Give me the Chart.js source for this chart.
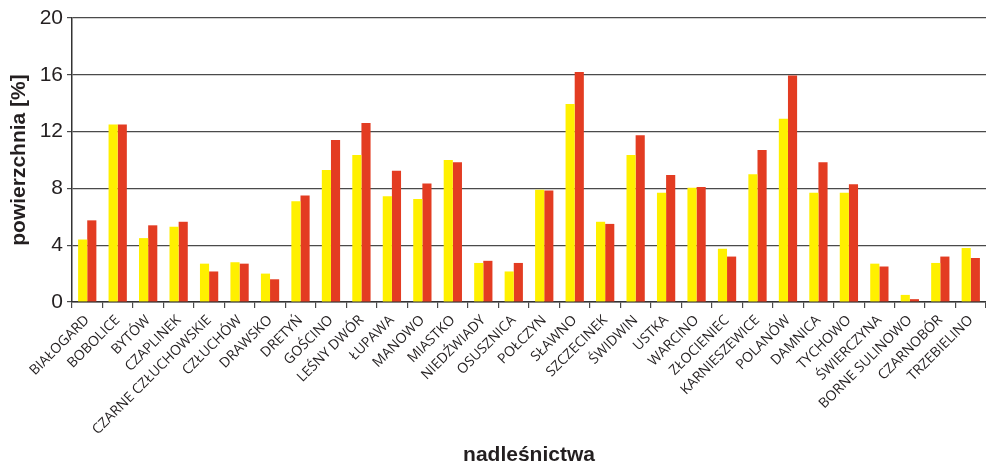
<!DOCTYPE html>
<html lang="pl">
<head>
<meta charset="utf-8">
<title>Powierzchnia nadleśnictw</title>
<script src="https://cdn.jsdelivr.net/npm/chart.js@4/dist/chart.umd.min.js"></script>
<style>
  html, body { margin: 0; padding: 0; background: #fff; }
  #wykres { display: block; }
</style>
</head>
<body>
<canvas id="wykres" width="986" height="466"></canvas>
<script>
// Nadleśnictwa (oś X)
const nadlesnictwa = [
  "BIAŁOGARD", "BOBOLICE", "BYTÓW", "CZAPLINEK", "CZARNE CZŁUCHOWSKIE",
  "CZŁUCHÓW", "DRAWSKO", "DRETYŃ", "GOŚCINO", "LEŚNY DWÓR",
  "ŁUPAWA", "MANOWO", "MIASTKO", "NIEDŹWIADY", "OSUSZNICA",
  "POŁCZYN", "SŁAWNO", "SZCZECINEK", "ŚWIDWIN", "USTKA",
  "WARCINO", "ZŁOCIENIEC", "KARNIESZEWICE", "POLANÓW", "DAMNICA",
  "TYCHOWO", "ŚWIERCZYNA", "BORNE SULINOWO", "CZARNOBÓR", "TRZEBIELINO"
];

// Udział powierzchni [%] - seria żółta
const seriaZolta = [
  4.4, 12.5, 4.5, 5.3, 2.7,
  2.8, 2.0, 7.1, 9.3, 10.35,
  7.45, 7.25, 10.0, 2.75, 2.15,
  7.9, 13.95, 5.65, 10.35, 7.7,
  8.05, 3.75, 9.0, 12.9, 7.7,
  7.7, 2.7, 0.5, 2.75, 3.8
];

// Udział powierzchni [%] - seria czerwona
const seriaCzerwona = [
  5.75, 12.5, 5.4, 5.65, 2.15,
  2.7, 1.6, 7.5, 11.4, 12.6,
  9.25, 8.35, 9.85, 2.9, 2.75,
  7.85, 16.2, 5.5, 11.75, 8.95,
  8.1, 3.2, 10.7, 15.95, 9.85,
  8.3, 2.5, 0.2, 3.2, 3.1
];

// Podziałka osi Y
const podzialkaY = [0, 4, 8, 12, 16, 20];

const kolorTekstu = "#231f20";
const kolorLinii = "#4a4a4a";

const ctx = document.getElementById("wykres").getContext("2d");
new Chart(ctx, {
  type: "bar",
  data: {
    labels: nadlesnictwa,
    datasets: [
      {
        label: "seria 1",
        data: seriaZolta,
        backgroundColor: "#fff000",
        borderWidth: 0,
        barPercentage: 1,
        categoryPercentage: 0.6
      },
      {
        label: "seria 2",
        data: seriaCzerwona,
        backgroundColor: "#e33c22",
        borderWidth: 0,
        barPercentage: 1,
        categoryPercentage: 0.6
      }
    ]
  },
  options: {
    responsive: false,
    devicePixelRatio: 1,
    animation: false,
    layout: { padding: { top: 18, right: 0, bottom: 0, left: 0 } },
    plugins: {
      legend: { display: false },
      tooltip: { enabled: false }
    },
    scales: {
      x: {
        offset: true,
        grid: {
          offset: true,
          drawOnChartArea: false,
          drawTicks: true,
          tickLength: 6,
          color: kolorLinii,
          lineWidth: 1.2
        },
        border: { color: "#333", width: 1.5 },
        ticks: {
          autoSkip: false,
          minRotation: 45,
          maxRotation: 45,
          padding: 4,
          color: kolorTekstu,
          font: { family: "'Open Sans'", size: 14 }
        },
        title: {
          display: true,
          text: "nadleśnictwa",
          color: kolorTekstu,
          font: { family: "'Liberation Sans', Arial", size: 21, weight: "bold", lineHeight: 1 },
          padding: { top: 0, bottom: 0 }
        },
        afterFit: function(scale) {
          scale.height = 164;
          scale.paddingLeft = 0;
          scale.paddingRight = 0;
        }
      },
      y: {
        min: 0,
        max: 20,
        afterBuildTicks: function(scale) {
          scale.ticks = podzialkaY.map(v => ({ value: v }));
        },
        grid: {
          color: kolorLinii,
          lineWidth: 1.2,
          tickLength: 5
        },
        border: { color: "#333", width: 1.5 },
        ticks: {
          padding: 4,
          color: kolorTekstu,
          font: { family: "'Liberation Sans', Arial", size: 21 }
        },
        title: {
          display: true,
          text: "powierzchnia [%]",
          color: kolorTekstu,
          font: { family: "'Liberation Sans', Arial", size: 21, weight: "bold", lineHeight: 1.2 },
          padding: { top: 7, bottom: 0 }
        },
        afterFit: function(scale) {
          scale.width = 72;
        }
      }
    }
  }
});
</script>
</body>
</html>
